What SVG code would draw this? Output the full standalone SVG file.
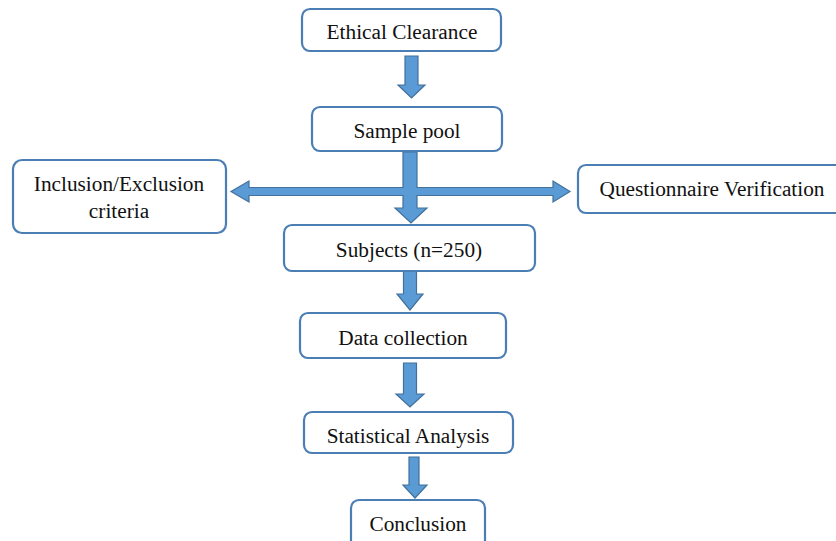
<svg xmlns="http://www.w3.org/2000/svg" width="836" height="541" viewBox="0 0 836 541">
<defs>
<style>
.box{fill:#fff;stroke:#4a7eb5;stroke-width:2.2}
.arr{fill:#5b9bd5;stroke:#41719c;stroke-width:1.2}
.t{font-family:'Liberation Serif','DejaVu Serif',serif;font-size:21.3px;fill:#111;text-anchor:middle}
</style>
</defs>
<rect width="836" height="541" fill="#fff"/>
<g id="connectors">
<path class="arr" d="M405,56 H418 V85 H425 L411.5,98 L398,85 H405 Z"/>
<path class="arr" d="M231,191.5 L249,181 V187.5 H403 V152 H417 V187.5 H553 V181 L570,191.5 L553,202 V195.5 H417 V208 H427 L411,223 L395,208 H403 V195.5 H249 V202 Z"/>
<path class="arr" d="M403.5,269 H416.5 V294 H423 L410,310 L397,294 H403.5 Z"/>
<path class="arr" d="M403.5,363 H416.5 V394 H424 L410,407 L396,394 H403.5 Z"/>
<path class="arr" d="M409,457 H419 V485 H427 L415,498 L403,485 H409 Z"/>
</g>
<g id="ethical"><rect class="box" x="302" y="9" width="199" height="42" rx="8"/><text class="t" x="402" y="39">Ethical Clearance</text></g>
<g id="sample"><rect class="box" x="312" y="107" width="190" height="44" rx="8"/><text class="t" x="407" y="138">Sample pool</text></g>
<g id="inclusion"><rect class="box" x="13" y="160" width="213" height="73" rx="9"/><text class="t" x="119" y="191">Inclusion/Exclusion</text><text class="t" x="119" y="218">criteria</text></g>
<g id="questionnaire"><rect class="box" x="578" y="165" width="270" height="48" rx="8"/><text class="t" x="712" y="196">Questionnaire Verification</text></g>
<g id="subjects"><rect class="box" x="284" y="225" width="251" height="46" rx="8"/><text class="t" x="409" y="257">Subjects (n=250)</text></g>
<g id="datacollection"><rect class="box" x="300" y="313" width="206" height="45" rx="8"/><text class="t" x="403" y="345">Data collection</text></g>
<g id="statistical"><rect class="box" x="304" y="412" width="209" height="41" rx="8"/><text class="t" x="408" y="443">Statistical Analysis</text></g>
<g id="conclusion"><rect class="box" x="351" y="500" width="134" height="50" rx="8"/><text class="t" x="418" y="531">Conclusion</text></g>
</svg>
